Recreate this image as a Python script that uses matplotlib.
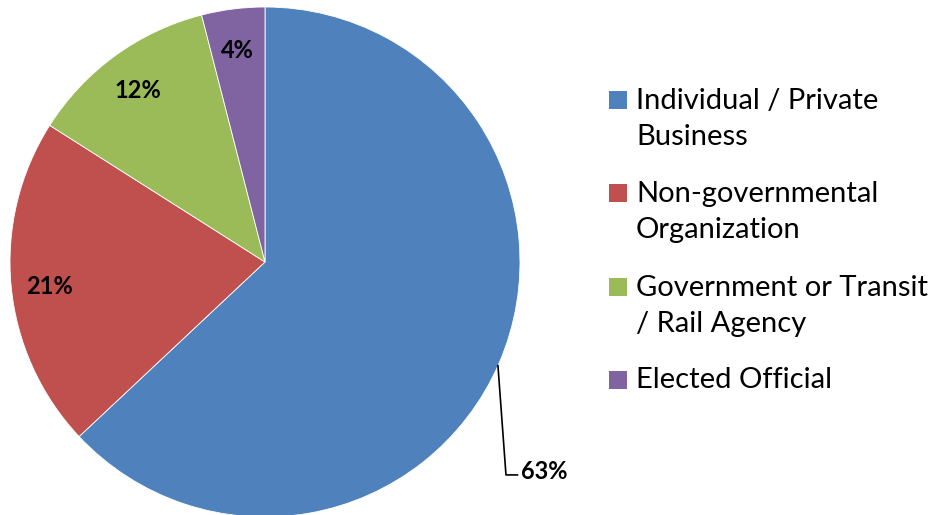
import numpy as np
import matplotlib.pyplot as plt
from matplotlib.patches import Rectangle

plt.rcParams['font.family'] = ['Lato', 'DejaVu Sans']

categories = ['Individual / Private\nBusiness', 'Non-governmental\nOrganization',
              'Government or Transit\n/ Rail Agency', 'Elected Official']
shares = [63, 21, 12, 4]
colors = ['#4F81BD', '#C0504D', '#9BBB59', '#8064A2']

W, H = 933, 515
fig = plt.figure(figsize=(W / 100, H / 100), dpi=100)
ax = fig.add_axes([10 / W, -2 / H, 510 / W, 510 / H])

wedges, _ = ax.pie(shares, colors=colors, startangle=90, counterclock=False,
                   radius=1, wedgeprops=dict(edgecolor='white', linewidth=0.6))
ax.set_xlim(-1, 1)
ax.set_ylim(-1, 1)
ax.set_aspect('equal')
ax.axis('off')

for w, s in zip(wedges, shares):
    mid = np.deg2rad((w.theta1 + w.theta2) / 2)
    if s > 50:
        # outside label with leader line
        a = np.deg2rad(-24)
        ax.plot([np.cos(a), 0.945, 0.99], [np.sin(a), -0.835, -0.835],
                color='black', lw=1.2, clip_on=False)
        ax.text(1.005, -0.82, f'{s}%', ha='left', va='center', fontsize=17,
                fontweight='bold')
    else:
        r = 0.85
        ax.text(r * np.cos(mid), r * np.sin(mid) - 0.015, f'{s}%', ha='center',
                va='center', fontsize=17, fontweight='bold')

# legend drawn by hand so the markers sit on the first line
first_line = [100, 193, 287, 380]
pitch = 38
for y, lab, c in zip(first_line, categories, colors):
    n = lab.count('\n') + 1
    fig.patches.append(Rectangle((609 / W, 1 - (y + 9) / H), 18 / W, 18 / H,
                                 transform=fig.transFigure, facecolor=c,
                                 edgecolor='none'))
    yc = y + (n - 1) * pitch / 2
    fig.text(636 / W, 1 - yc / H, lab, ha='left', va='center', fontsize=21,
             linespacing=1.47)

fig.savefig('out.png', dpi=100)
